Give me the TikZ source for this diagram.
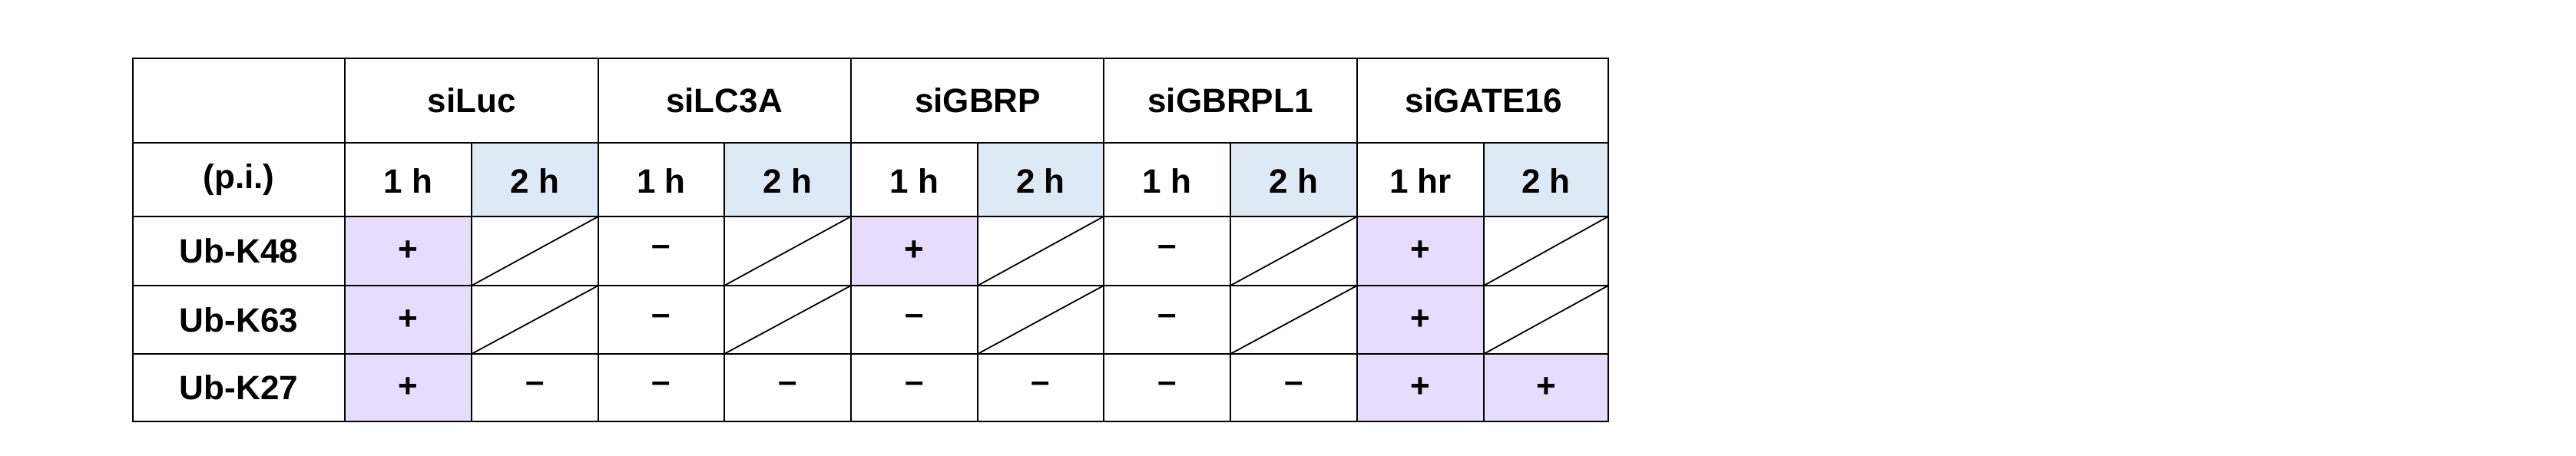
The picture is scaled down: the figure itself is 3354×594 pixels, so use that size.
\documentclass[tikz,border=0pt]{standalone}
\usepackage{fontspec}
\setmainfont{Liberation Sans}
\begin{document}
\begin{tikzpicture}[x=1pt,y=-1pt,
  txt/.style={font=\bfseries\fontsize{44}{48}\selectfont, inner sep=0pt},
  pur/.style={fill={rgb,255:red,230;green,220;blue,252}},
  blu/.style={fill={rgb,255:red,222;green,233;blue,246}},
  grid/.style={draw=black, line width=2.2pt}]
\useasboundingbox (0,0) rectangle (3354,594);
\def\xs{{173,449,614,779,943,1108,1273,1437,1602,1767,1932,2094}}
\def\ys{{76,186,282,372,461,549}}
% fills
\foreach \c in {2,4,6,8,10} {
  \pgfmathsetmacro\xa{\xs[\c]}\pgfmathsetmacro\xb{\xs[\c+1]}
  \fill[blu] (\xa,186) rectangle (\xb,282);
}
\foreach \c/\r in {1/2,1/3,1/4,5/2,9/2,9/3,9/4,10/4} {
  \pgfmathsetmacro\xa{\xs[\c]}\pgfmathsetmacro\xb{\xs[\c+1]}
  \pgfmathsetmacro\ya{\ys[\r]}\pgfmathsetmacro\yb{\ys[\r+1]}
  \fill[pur] (\xa,\ya) rectangle (\xb,\yb);
}
% diagonals
\foreach \c/\r in {2/2,4/2,6/2,8/2,10/2,2/3,4/3,6/3,8/3,10/3} {
  \pgfmathsetmacro\xa{\xs[\c]}\pgfmathsetmacro\xb{\xs[\c+1]}
  \pgfmathsetmacro\ya{\ys[\r]}\pgfmathsetmacro\yb{\ys[\r+1]}
  \draw[line width=1.8pt] (\xa,\yb) -- (\xb,\ya);
}
% grid
\draw[grid] (173,76) rectangle (2094,549);
\foreach \y in {186,282,372,461} \draw[grid] (173,\y) -- (2094,\y);
\foreach \x in {449,779,1108,1437,1767} \draw[grid] (\x,76) -- (\x,549);
\foreach \x in {614,943,1273,1602,1932} \draw[grid] (\x,186) -- (\x,549);
% header texts
\node[txt] (g1) at (614,131) {siLuc};
\node[txt] (g2) at (943,131) {siLC3A};
\node[txt] (g3) at (1273,131) {siGBRP};
\node[txt] (g4) at (1602,131) {siGBRPL1};
\node[txt] (g5) at (1932,131) {siGATE16};
\node[txt] (pi) at (311,234) {(p.i.)};
\foreach \c/\t in {1/1 h,2/2 h,3/1 h,4/2 h,5/1 h,6/2 h,7/1 h,8/2 h,9/1 hr,10/2 h} {
  \pgfmathsetmacro\xa{\xs[\c]}\pgfmathsetmacro\xb{\xs[\c+1]}
  \pgfmathsetmacro\xm{(\xa+\xb)/2}
  \node[txt] (h\c) at (\xm,236) {\t};
}
\node[txt] (r1) at (311,327) {Ub-K48};
\node[txt] (r2) at (311,417) {Ub-K63};
\node[txt] (r3) at (311,505) {Ub-K27};
\foreach \c/\r/\t in {1/2/+,3/2/--,5/2/+,7/2/--,9/2/+,
  1/3/+,3/3/--,5/3/--,7/3/--,9/3/+,
  1/4/+,2/4/--,3/4/--,4/4/--,5/4/--,6/4/--,7/4/--,8/4/--,9/4/+,10/4/+} {
  \pgfmathsetmacro\xa{\xs[\c]}\pgfmathsetmacro\xb{\xs[\c+1]}
  \pgfmathsetmacro\ya{\ys[\r]}\pgfmathsetmacro\yb{\ys[\r+1]}
  \pgfmathsetmacro\xm{(\xa+\xb)/2}\pgfmathsetmacro\ym{(\ya+\yb)/2}
  \node[txt] (v\c-\r) at (\xm,\ym) {\t};
}
\end{tikzpicture}
\end{document}
